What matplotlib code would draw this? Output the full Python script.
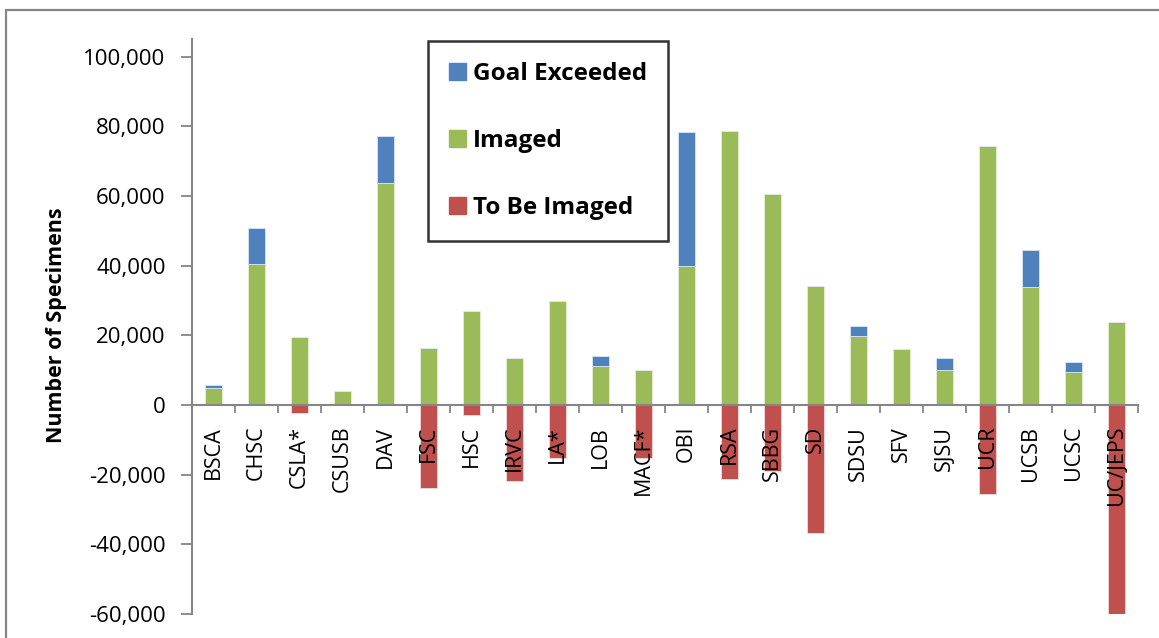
import matplotlib.pyplot as plt
from matplotlib.patches import Rectangle, Patch
from matplotlib.ticker import FuncFormatter, FixedLocator

# Herbaria and their specimen counts
herbaria = ['BSCA', 'CHSC', 'CSLA*', 'CSUSB', 'DAV', 'FSC', 'HSC', 'IRVC', 'LA*', 'LOB',
            'MACF*', 'OBI', 'RSA', 'SBBG', 'SD', 'SDSU', 'SFV', 'SJSU', 'UCR', 'UCSB',
            'UCSC', 'UC/JEPS']
imaged = [5000, 40400, 19600, 4100, 63600, 16300, 27000, 13400, 30000, 11100,
          10000, 39900, 78700, 60700, 34200, 19800, 16000, 10100, 74300, 33900,
          9600, 23700]
goal_exceeded = [800, 10400, 0, 0, 13500, 0, 0, 0, 0, 3000,
                 0, 38400, 0, 0, 0, 2900, 0, 3400, 0, 10600,
                 2800, 0]
to_be_imaged = [0, 0, 2400, 0, 0, 23800, 3000, 21700, 15100, 0,
                15200, 0, 21100, 19000, 36800, 0, 0, 0, 25500, 0,
                0, 60800]

BLUE = '#4F81BD'
GREEN = '#9BBB59'
RED = '#C0504D'
GRAY = '#868686'

plt.rcParams['font.family'] = ['Open Sans', 'DejaVu Sans']


# Draw the stacked bar chart
def create_specimen_chart():
    fig = plt.figure(figsize=(11.59, 6.38), dpi=100)
    ax = fig.add_axes([192 / 1159, 24 / 638, 946 / 1159, 574.7 / 638])

    x = list(range(len(herbaria)))
    width = 0.4
    neg = [-v for v in to_be_imaged]

    ax.bar(x, imaged, width, color=GREEN, edgecolor='#E6EED5', linewidth=0.6)
    ax.bar(x, goal_exceeded, width, bottom=imaged, color=BLUE,
           edgecolor='#DCE6F2', linewidth=0.6)
    ax.bar(x, neg, width, color=RED, edgecolor='#F2DCDB', linewidth=0.6)

    ax.set_xlim(-0.5, len(herbaria) - 0.5)
    ax.set_ylim(-60000, 105000)

    # y axis
    ax.yaxis.set_major_locator(FixedLocator(range(-60000, 100001, 20000)))
    ax.yaxis.set_major_formatter(FuncFormatter(lambda v, p: '{:,.0f}'.format(v)))
    ax.tick_params(axis='y', direction='out', length=8, width=1.3, color=GRAY,
                   labelsize=16, pad=11)
    ax.set_ylabel('Number of Specimens', fontsize=15.5, fontweight='bold')
    ax.yaxis.set_label_coords(-0.132, 0.503)

    # x axis sits at zero, labels hang below it
    ax.spines['bottom'].set_position(('data', 0))
    ax.set_xticks(x)
    ax.set_xticklabels(herbaria, rotation=90, va='top', ha='center')
    ax.tick_params(axis='x', which='major', length=0, labelsize=15.5, pad=15)
    ax.set_xticks([i + 0.5 for i in x], minor=True)
    ax.tick_params(axis='x', which='minor', direction='out', length=6, width=1.3,
                   color=GRAY)

    for side in ['top', 'right']:
        ax.spines[side].set_visible(False)
    for side in ['left', 'bottom']:
        ax.spines[side].set_color(GRAY)
        ax.spines[side].set_linewidth(1.5)

    # legend box
    handles = [Patch(color=BLUE, label='Goal Exceeded'),
               Patch(color=GREEN, label='Imaged'),
               Patch(color=RED, label='To Be Imaged')]
    leg = fig.legend(handles=handles, loc='upper left',
                     bbox_to_anchor=(428 / 1159, 1 - 41 / 638),
                     prop={'weight': 'bold', 'size': 17.5},
                     frameon=True, fancybox=False, edgecolor='black',
                     handlelength=0.7, handleheight=0.7, handletextpad=0.3,
                     labelspacing=1.78, borderpad=0.85, borderaxespad=0)
    leg.get_frame().set_linewidth(1.8)

    # outer chart frame
    fig.patches.append(Rectangle((6 / 1159, -0.1), 1.2, 1 - 10 / 638 + 0.1,
                                 transform=fig.transFigure, fill=False,
                                 edgecolor=GRAY, linewidth=1.6))

    fig.savefig('out.png', dpi=100)


def main():
    create_specimen_chart()


if __name__ == "__main__":
    main()
